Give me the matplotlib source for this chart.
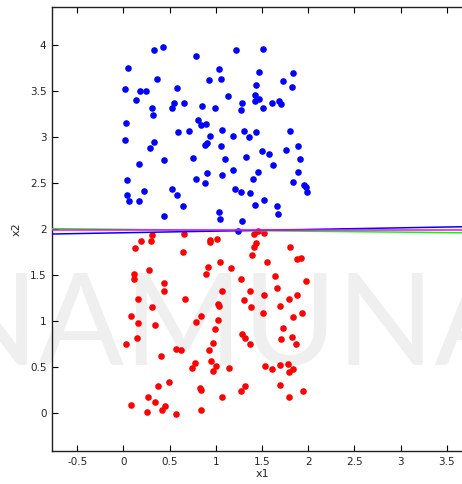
import matplotlib.pyplot as plt

# class 1 (upper cluster)
x_blue = [0.33, 0.43, 0.79, 1.22, 1.51, 0.05, 1.04, 1.47, 1.84, 0.36,
          0.93, 1.06, 1.44, 1.73, 1.82, 0.02, 0.18, 0.25, 0.58, 1.13,
          1.42, 0.14, 0.55, 0.53, 0.66, 0.85, 0.99, 1.28, 1.27, 1.42,
          1.47, 1.51, 1.61, 1.68, 1.71, 0.31, 0.32, 0.03, 0.81, 0.84,
          0.89, 0.59, 0.71, 1.07, 1.30, 1.43, 1.80, 0.94, 1.19, 1.36,
          0.02, 0.33, 0.29, 0.88, 0.91, 1.06, 1.50, 1.58, 1.76, 1.89,
          0.17, 0.44, 0.75, 1.10, 1.33, 1.62, 1.91, 0.91, 1.07, 1.19,
          1.46, 1.89, 0.04, 0.79, 0.88, 1.40, 1.84, 1.95, 1.98, 1.99,
          0.22, 0.53, 1.21, 1.27, 1.37, 0.04, 0.06, 0.17, 0.58, 0.64,
          1.42, 1.52, 1.66, 1.67, 0.44, 1.04, 1.05, 1.28, 1.24]
y_blue = [3.95, 3.98, 3.88, 3.95, 3.96, 3.75, 3.74, 3.71, 3.70, 3.63,
          3.62, 3.63, 3.57, 3.61, 3.54, 3.52, 3.50, 3.50, 3.53, 3.45,
          3.46, 3.40, 3.37, 3.32, 3.37, 3.34, 3.31, 3.37, 3.29, 3.39,
          3.41, 3.31, 3.37, 3.39, 3.36, 3.31, 3.24, 3.15, 3.18, 3.13,
          3.14, 3.05, 3.06, 3.08, 3.07, 3.05, 3.06, 3.01, 3.01, 3.00,
          2.97, 2.95, 2.88, 2.91, 2.93, 2.90, 2.85, 2.82, 2.86, 2.90,
          2.71, 2.75, 2.77, 2.76, 2.78, 2.70, 2.76, 2.61, 2.59, 2.64,
          2.62, 2.62, 2.53, 2.54, 2.50, 2.54, 2.51, 2.48, 2.46, 2.40,
          2.41, 2.44, 2.43, 2.40, 2.39, 2.37, 2.30, 2.30, 2.37, 2.25,
          2.26, 2.32, 2.25, 2.16, 2.14, 2.18, 2.11, 2.09, 1.98]

# class 2 (lower cluster)
x_red = [0.31, 0.66, 0.94, 0.94, 1.01, 1.41, 1.46, 1.52, 0.19, 0.30,
         0.13, 0.64, 1.43, 1.41, 1.39, 1.80, 1.88, 1.92, 1.05, 1.16,
         0.92, 0.89, 1.55, 0.28, 0.11, 0.11, 0.44, 0.44, 1.27, 1.64,
         1.98, 1.66, 1.37, 1.07, 1.52, 1.88, 0.16, 0.67, 1.31, 1.79,
         0.31, 1.02, 1.04, 1.38, 1.70, 0.08, 0.84, 1.02, 1.51, 1.93,
         1.84, 0.16, 0.34, 0.79, 0.99, 0.15, 0.03, 1.28, 1.32, 1.37,
         1.73, 1.82, 1.71, 1.87, 0.97, 0.57, 0.62, 0.93, 0.41, 0.78,
         0.74, 0.95, 1.00, 0.97, 1.14, 1.53, 1.61, 1.69, 1.78, 1.83,
         1.79, 0.49, 0.37, 0.83, 0.84, 1.32, 1.27, 1.69, 1.94, 0.27,
         0.34, 1.07, 1.79, 0.08, 0.45, 0.42, 0.26, 0.57, 0.84]
y_red = [1.94, 1.95, 1.88, 1.86, 1.89, 1.95, 1.98, 1.96, 1.87, 1.87,
         1.79, 1.75, 1.85, 1.80, 1.72, 1.80, 1.67, 1.68, 1.64, 1.58,
         1.59, 1.51, 1.64, 1.55, 1.51, 1.46, 1.41, 1.33, 1.46, 1.49,
         1.43, 1.36, 1.33, 1.33, 1.28, 1.28, 1.24, 1.24, 1.23, 1.24,
         1.15, 1.18, 1.16, 1.15, 1.16, 1.05, 1.05, 1.01, 1.09, 1.09,
         1.04, 0.98, 0.96, 0.99, 0.91, 0.81, 0.75, 0.86, 0.81, 0.75,
         0.92, 0.83, 0.80, 0.75, 0.76, 0.70, 0.68, 0.68, 0.62, 0.54,
         0.49, 0.56, 0.51, 0.46, 0.49, 0.51, 0.48, 0.52, 0.53, 0.48,
         0.45, 0.34, 0.29, 0.27, 0.25, 0.29, 0.24, 0.30, 0.24, 0.17,
         0.12, 0.17, 0.17, 0.09, 0.08, 0.03, 0.01, -0.01, 0.03]

# decision boundaries, end points at the x limits
line_x = [-0.8, 3.8]
line_green = [2.004, 1.958]
line_blue = [1.945, 2.027]
line_magenta = [1.986, 1.986]

x_ticks = [-0.5, 0, 0.5, 1, 1.5, 2, 2.5, 3, 3.5]
y_ticks = [0, 0.5, 1, 1.5, 2, 2.5, 3, 3.5, 4]

fig = plt.figure(figsize=(4.62, 4.84), dpi=100)
ax = fig.add_axes([52 / 462, 33 / 484, 420 / 462, 444 / 484])

ax.text(0.5, 119 / 484, 'NAMUNA', transform=fig.transFigure, ha='center', va='baseline',
        fontsize=92, color='#efefef', family=['Lato', 'DejaVu Sans'], fontweight='normal',
        clip_on=False, zorder=0)

ax.scatter(x_blue, y_blue, s=14, color='blue', zorder=3)
ax.scatter(x_red, y_red, s=14, color='red', zorder=3)
ax.plot(line_x, line_green, color='#00ff00', lw=1.1, zorder=4)
ax.plot(line_x, line_blue, color='blue', lw=1.1, zorder=4)
ax.plot(line_x, line_magenta, color='magenta', lw=1.1, zorder=4)

ax.set_xlim(-0.772, 3.772)
ax.set_ylim(-0.413, 4.413)
ax.set_xticks(x_ticks)
ax.set_xticklabels(['-0.5', '0', '0.5', '1', '1.5', '2', '2.5', '3', '3.5'])
ax.set_yticks(y_ticks)
ax.set_yticklabels(['0', '0.5', '1', '1.5', '2', '2.5', '3', '3.5', '4'])
ax.tick_params(direction='in', length=4, width=0.8, labelsize=7.5,
               top=True, right=True, pad=4, colors='black', labelcolor='#262626')
for s in ax.spines.values():
    s.set_linewidth(1.0)
    s.set_color('#202020')
ax.patch.set_alpha(0)

ax.set_xlabel('x1', fontsize=8, color='#262626', labelpad=2)
ax.set_ylabel('x2', fontsize=8, color='#262626', labelpad=6)

fig.savefig('out.png', dpi=100)
